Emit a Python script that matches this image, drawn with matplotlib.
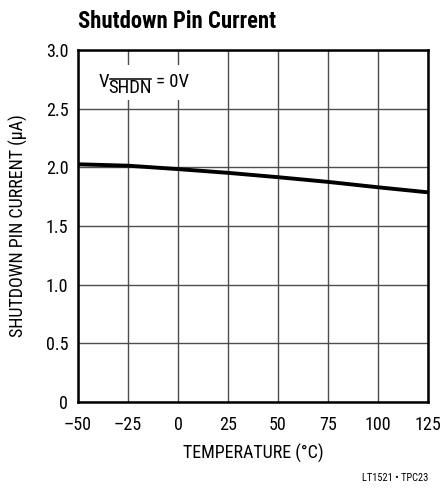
import matplotlib
matplotlib.use("Agg")
import matplotlib.pyplot as plt
from matplotlib import font_manager
from matplotlib.patches import Rectangle
from matplotlib.lines import Line2D

names = {f.name for f in font_manager.fontManager.ttflist}
cands = ['Roboto Condensed', 'Liberation Sans Narrow', 'Arial Narrow', 'Open Sans Condensed', 'Liberation Sans']
main = next(c for c in cands if c in names)
FAM = [main, 'DejaVu Sans']
plt.rcParams['font.family'] = FAM

temperature = [-50, -25, 0, 25, 50, 75, 100, 125]
current = [2.026, 2.014, 1.985, 1.953, 1.916, 1.876, 1.83, 1.787]
xticks = [-50, -25, 0, 25, 50, 75, 100, 125]
xticklabels = ['–50', '–25', '0', '25', '50', '75', '100', '125']
yticks = [0, 0.5, 1.0, 1.5, 2.0, 2.5, 3.0]
yticklabels = ['0', '0.5', '1.0', '1.5', '2.0', '2.5', '3.0']

W, H = 444, 488
fig = plt.figure(figsize=(W / 100, H / 100), dpi=100)
ax = fig.add_axes([78 / W, 86 / H, 350 / W, 352 / H])
ax.plot(temperature, current, color='black', lw=2.8, solid_capstyle='butt', zorder=3)
ax.set_xlim(-50, 125)
ax.set_ylim(0, 3.0)
ax.set_xticks(xticks)
ax.set_xticklabels(xticklabels, fontsize=13)
ax.set_yticks(yticks)
ax.set_yticklabels(yticklabels, fontsize=13)
ax.tick_params(axis='x', length=0, pad=10)
ax.tick_params(axis='y', length=0, pad=7)
ax.grid(True, color='#4d4d4d', lw=1.0)
for s in ax.spines.values():
    s.set_linewidth(1.8)
ax.set_xlabel('TEMPERATURE (°C)', fontsize=13, labelpad=7)
ax.set_ylabel('SHUTDOWN PIN CURRENT (µA)', fontsize=13, labelpad=13)


def fx(px):
    return px / W


def fy(py):
    return 1 - py / H


# white background box for the annotation
fig.patches.append(Rectangle((fx(92), fy(100)), fx(192) - fx(92), fy(65) - fy(100),
                             transform=fig.transFigure, facecolor='white', edgecolor='none', zorder=2))

renderer = fig.canvas.get_renderer()
fs = 13.5
t1 = fig.text(fx(99), fy(87), 'V', fontsize=fs, va='baseline', ha='left', zorder=5)
x1 = t1.get_window_extent(renderer).x1
t2 = fig.text((x1 - 1) / W, fy(93), 'SHDN', fontsize=fs, va='baseline', ha='left', zorder=5)
bb2 = t2.get_window_extent(renderer)
fig.lines.append(Line2D([(bb2.x0 + 1.5) / W, (bb2.x1 - 1) / W], [fy(79), fy(79)], transform=fig.transFigure,
                        color='black', lw=1.1, zorder=5))
t3 = fig.text((bb2.x1 + 4) / W, fy(87), '= 0V', fontsize=fs, va='baseline', ha='left', zorder=5)

# title, sized to the reference width
title = fig.text(fx(78), fy(28), 'Shutdown Pin Current', fontsize=16, fontweight='bold',
                 va='baseline', ha='left')
w = title.get_window_extent(renderer).width
title.set_fontsize(16 * 197 / w)

fig.text(fx(428), fy(478), 'LT1521 • TPC23', fontsize=7.5, va='center', ha='right')
fig.savefig('out.png', dpi=100)
